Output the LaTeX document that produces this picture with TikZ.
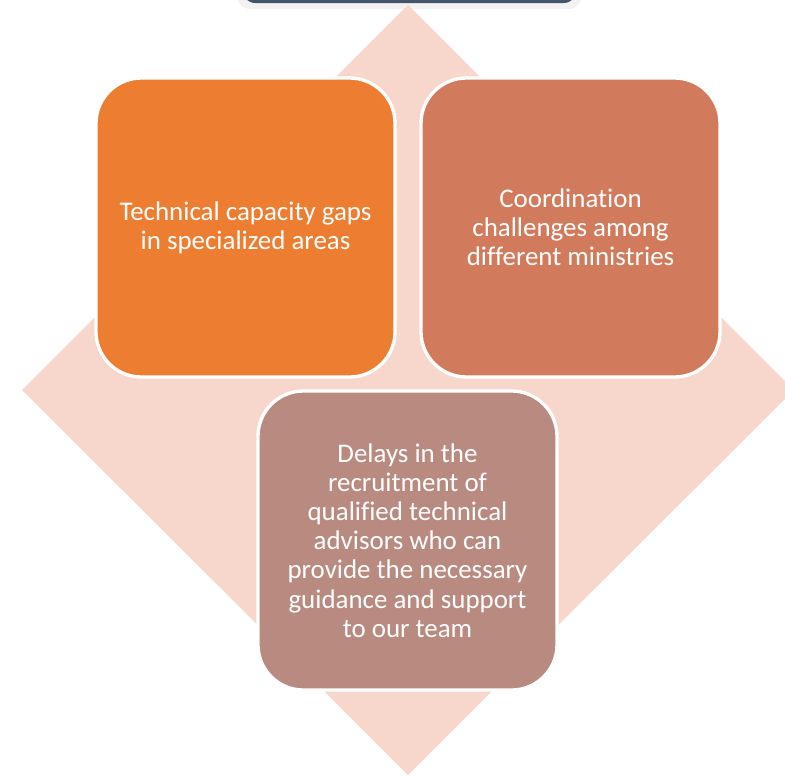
\documentclass[tikz,border=0pt]{standalone}
\usepackage{fontspec}
\setmainfont{Carlito}[Ligatures=NoCommon]
\definecolor{diam}{HTML}{F7D7CC}
\definecolor{boxA}{HTML}{ED7D31}
\definecolor{boxB}{HTML}{D27B5C}
\definecolor{boxC}{HTML}{B98A80}
\definecolor{navy}{HTML}{44546A}
\tikzset{
  card/.style={draw=white, line width=2.5pt, rounded corners=34pt},
  cardtext/.style={text=white, align=center, font=\fontsize{20.2}{21.9}\selectfont}
}
\begin{document}
\begin{tikzpicture}[x=0.75pt,y=-0.75pt]
\useasboundingbox (0,0) rectangle (785,775);
\clip (0,0) rectangle (785,775);
% top partial box with shadow
\fill[black!10, rounded corners=10pt] (239,-40) rectangle (580,7);
\fill[black!5, rounded corners=10pt] (237,-40) rectangle (582,9);
\fill[navy, rounded corners=10pt] (242,-40) rectangle (577,3);
% diamond
\fill[diam] (408,5) coordinate (dt) -- (22,390) coordinate (dl) -- (408,775) coordinate (db) -- (794,390) coordinate (dr) -- cycle;
% cards
\draw[card, fill=boxA] (96,78) rectangle (395,377);
\node[cardtext] (a) at (245.5,227.5) {Technical capacity gaps\\in specialized areas};
\draw[card, fill=boxB] (421,78) rectangle (720,377);
\node[cardtext] (b) at (570.5,227.5) {Coordination\\challenges among\\different ministries};
\draw[card, fill=boxC] (258,391) rectangle (557,690);
\node[cardtext] (c) at (407.5,540.5) {Delays in the\\recruitment of\\qualified technical\\advisors who can\\provide the necessary\\guidance and support\\to our team};
\end{tikzpicture}
\end{document}
